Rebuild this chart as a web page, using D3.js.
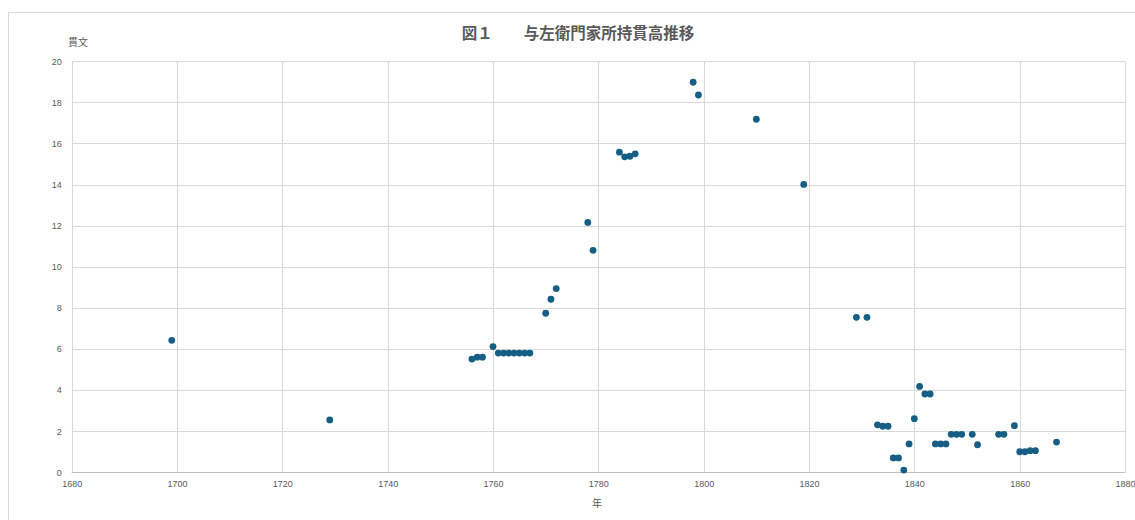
<!DOCTYPE html>
<html><head><meta charset="utf-8">
<script src="https://cdn.jsdelivr.net/npm/d3@7"></script>
<style>
html,body{margin:0;padding:0;background:#fff;}
svg{display:block;}
text{font-family:"Liberation Sans","Noto Sans CJK JP",sans-serif;}
</style></head>
<body>
<svg id="c" width="1135" height="520"></svg>
<script>
const years = [1699,1729,1756,1757,1758,1760,1761,1762,1763,1764,1765,1766,1767,1770,1771,1772,1778,1779,1784,1785,1786,1787,1798,1799,1810,1819,1829,1831,1833,1834,1835,1836,1837,1838,1839,1840,1841,1842,1843,1844,1845,1846,1847,1848,1849,1851,1852,1856,1857,1859,1860,1861,1862,1863,1867];
const values = [6.42,2.55,5.51,5.6,5.6,6.12,5.8,5.8,5.8,5.8,5.8,5.8,5.8,7.74,8.42,8.94,12.16,10.8,15.58,15.35,15.38,15.5,18.98,18.36,17.18,14.01,7.54,7.54,2.31,2.24,2.24,0.7,0.7,0.11,1.38,2.61,4.18,3.81,3.81,1.38,1.38,1.38,1.85,1.85,1.85,1.85,1.34,1.85,1.85,2.27,1.0,1.0,1.05,1.05,1.47];
const xTicks = [1680,1700,1720,1740,1760,1780,1800,1820,1840,1860,1880];
const yTicks = [0,2,4,6,8,10,12,14,16,18,20];
const titleText = "図１　　与左衛門家所持貫高推移";
const yLabel = "貫文";
const xLabel = "年";

const svg = d3.select("#c");
// outer chart frame
svg.append("rect").attr("x",8.5).attr("y",12.5).attr("width",1140).attr("height",520)
  .attr("fill","#fff").attr("stroke","#d9d9d9").attr("stroke-width",1);

const x = d3.scaleLinear().domain([1680,1880]).range([71.7,1125]);
const y = d3.scaleLinear().domain([0,20]).range([472.3,61.3]);

const grid = svg.append("g");
grid.selectAll("line.v").data(xTicks).join("line")
  .attr("x1",d=>Math.round(x(d))+0.5).attr("x2",d=>Math.round(x(d))+0.5)
  .attr("y1",y(20)).attr("y2",y(0))
  .attr("stroke","#d9d9d9").attr("stroke-width",1);
grid.selectAll("line.h").data(yTicks).join("line")
  .attr("y1",d=>Math.round(y(d))+0.5).attr("y2",d=>Math.round(y(d))+0.5)
  .attr("x1",x(1680)).attr("x2",x(1880))
  .attr("stroke",d=>d===0?"#bfbfbf":"#d9d9d9").attr("stroke-width",1);

const xAxis = d3.axisBottom(x).tickValues(xTicks).tickSize(0).tickPadding(8).tickFormat(d3.format("d"));
const gx = svg.append("g").attr("transform",`translate(0,${y(0)})`).call(xAxis);
gx.select(".domain").remove();
gx.selectAll("text").attr("fill","#595959").attr("font-size","9px");

const yAxis = d3.axisLeft(y).tickValues(yTicks).tickSize(0).tickPadding(10);
const gy = svg.append("g").attr("transform",`translate(${x(1680)},0)`).call(yAxis);
gy.select(".domain").remove();
gy.selectAll("text").attr("fill","#595959").attr("font-size","9px");

svg.append("g").selectAll("circle").data(years.map((d,i)=>({yr:d,v:values[i]}))).join("circle")
  .attr("cx",d=>x(d.yr)).attr("cy",d=>y(d.v)).attr("r",3.4).attr("fill","#165e83");

svg.append("text").attr("x",578).attr("y",39).attr("text-anchor","middle")
  .attr("font-size","15.5px").attr("font-weight","bold").attr("fill","#595959")
  .style("font-family","'Noto Sans CJK JP',sans-serif").text(titleText);
svg.append("text").attr("x",68).attr("y",46).attr("font-size","10px").attr("fill","#595959")
  .style("font-family","'Noto Sans CJK JP',sans-serif").text(yLabel);
svg.append("text").attr("x",597).attr("y",507).attr("text-anchor","middle").attr("font-size","10px").attr("fill","#595959")
  .style("font-family","'Noto Sans CJK JP',sans-serif").text(xLabel);
</script>
</body></html>
